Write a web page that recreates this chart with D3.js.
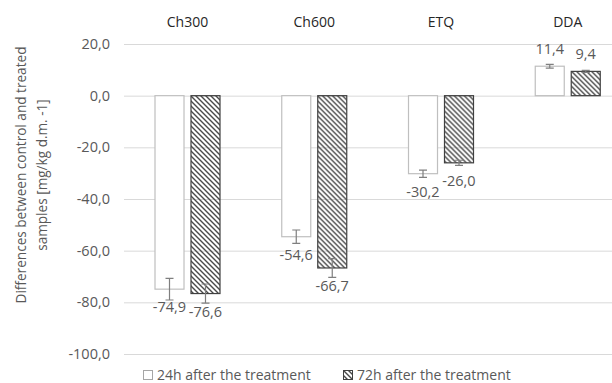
<!DOCTYPE html>
<html>
<head>
<meta charset="utf-8">
<script src="https://cdn.jsdelivr.net/npm/d3@7"></script>
<style>
  body { margin: 0; background: #fff; }
  svg { display: block; font-family: "Open Sans", sans-serif; }
</style>
</head>
<body>
<div id="chart"></div>
<script>
// chart data
const categories = ['Ch300', 'Ch600', 'ETQ', 'DDA'];
const series = ['24h after the treatment', '72h after the treatment'];
const values24h = [-74.9, -54.6, -30.2, 11.4];
const values72h = [-76.6, -66.7, -26.0, 9.4];
const errors24h = [4.2, 2.6, 1.4, 0.7];
const errors72h = [3.7, 3.6, 1.0, 0.4];
const yTicks = [20, 0, -20, -40, -60, -80, -100];

const outerWidth = 612;
const outerHeight = 383;
const margin = { top: 44, left: 124, bottom: 29 };
const plotWidth = 507;
const height = outerHeight - margin.top - margin.bottom;

const fmt = v => v.toFixed(1).replace('.', ',');

const rows = categories.map((c, i) => ({
  cat: c,
  bars: [
    { s: series[0], v: values24h[i], e: errors24h[i] },
    { s: series[1], v: values72h[i], e: errors72h[i] }
  ]
}));

const svg = d3.select('#chart')
  .append('svg')
  .attr('width', outerWidth)
  .attr('height', outerHeight);

// hatch pattern (wide downward diagonal)
const P = 5;
svg.append('defs')
  .append('pattern')
  .attr('id', 'hatch')
  .attr('patternUnits', 'userSpaceOnUse')
  .attr('width', P)
  .attr('height', P)
  .append('path')
  .attr('d', `M-1,-1L${P + 1},${P + 1}M-1,${P - 1}L1,${P + 1}M${P - 1},-1L${P + 1},1`)
  .attr('stroke', '#4a4a4a')
  .attr('stroke-width', 1.4);

const g = svg.append('g')
  .attr('transform', `translate(${margin.left},${margin.top})`);

const x0 = d3.scaleBand().domain(categories).range([0, plotWidth]);
const x1 = d3.scaleBand().domain(series).range([31, 96]).paddingInner(0.194);
const y = d3.scaleLinear().domain([-100, 20]).range([height, 0]);

// gridlines + tick labels
const yAxis = g.append('g')
  .call(d3.axisLeft(y).tickValues(yTicks).tickSize(-plotWidth).tickPadding(14).tickFormat(fmt));
yAxis.select('.domain').remove();
yAxis.selectAll('.tick line').attr('stroke', '#d9d9d9').attr('stroke-width', 1);
yAxis.selectAll('.tick text')
  .attr('fill', '#595959')
  .attr('font-size', 14.5)
  .attr('font-family', '"Open Sans", sans-serif');

// category labels on top
g.append('g')
  .selectAll('text')
  .data(categories)
  .enter()
  .append('text')
  .attr('x', d => x0(d) + 63.5)
  .attr('y', -22)
  .attr('dy', '0.35em')
  .attr('text-anchor', 'middle')
  .attr('font-size', 14)
  .attr('fill', '#262626')
  .text(d => d);

// bars
const groups = g.append('g')
  .selectAll('g')
  .data(rows)
  .enter()
  .append('g')
  .attr('transform', d => `translate(${x0(d.cat)},0)`);

const bar = groups.selectAll('g')
  .data(d => d.bars)
  .enter()
  .append('g');

bar.append('rect')
  .attr('x', d => x1(d.s))
  .attr('y', d => y(Math.max(0, d.v)))
  .attr('width', x1.bandwidth())
  .attr('height', d => Math.abs(y(d.v) - y(0)))
  .attr('fill', d => d.s === series[0] ? '#ffffff' : 'url(#hatch)')
  .attr('stroke', d => d.s === series[0] ? '#bfbfbf' : '#404040')
  .attr('stroke-width', 1.2);

// error bars
const cx = d => x1(d.s) + x1.bandwidth() / 2;
bar.append('path')
  .attr('d', d => {
    const t = y(d.v + d.e), b = y(d.v - d.e), c = cx(d);
    return `M${c - 4},${t}H${c + 4}M${c},${t}V${b}M${c - 4},${b}H${c + 4}`;
  })
  .attr('fill', 'none')
  .attr('stroke', '#7f7f7f')
  .attr('stroke-width', 1.2);

// value labels
bar.append('text')
  .attr('x', cx)
  .attr('y', d => d.v < 0 ? y(d.v) + 18 : y(d.v) - 17)
  .attr('dy', '0.35em')
  .attr('text-anchor', 'middle')
  .attr('font-size', 14.5)
  .attr('fill', '#595959')
  .text(d => fmt(d.v));

// y-axis title
const title = svg.append('text')
  .attr('transform', 'translate(0,175) rotate(-90)')
  .attr('text-anchor', 'middle')
  .attr('font-size', 13.6)
  .attr('fill', '#595959');
title.append('tspan').attr('x', 0).attr('y', 26).text('Differences between control and treated');
title.append('tspan').attr('x', 0).attr('y', 47).text('samples [mg/kg d.m. -1]');

// legend
const legend = svg.append('g').attr('transform', 'translate(0,375)');
const legendX = [143, 343];
series.forEach((s, i) => {
  const lg = legend.append('g').attr('transform', `translate(${legendX[i]},0)`);
  lg.append('rect')
    .attr('x', 0.5).attr('y', -4.5)
    .attr('width', 9).attr('height', 9)
    .attr('fill', i === 0 ? '#ffffff' : 'url(#hatch)')
    .attr('stroke', i === 0 ? '#a6a6a6' : '#404040');
  lg.append('text')
    .attr('x', 14)
    .attr('dy', '0.35em')
    .attr('font-size', 14)
    .attr('fill', '#595959')
    .text(s);
});
</script>
</body>
</html>
